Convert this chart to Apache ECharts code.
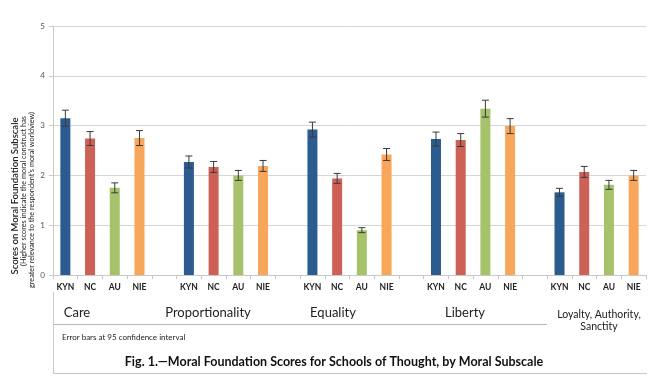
<!DOCTYPE html>
<html><head><meta charset="utf-8">
<script src="https://cdn.jsdelivr.net/npm/echarts@6/dist/echarts.min.js"></script>
<style>html,body{margin:0;padding:0;background:#fff}#c{width:655px;height:383px}</style>
</head><body><div id="c"></div>
<script>
const groups = ['Care', 'Proportionality', 'Equality', 'Liberty', 'Loyalty, Authority,\nSanctity'];
const schools = ['KYN', 'NC', 'AU', 'NIE'];
const kyn = [3.15, 2.27, 2.92, 2.73, 1.66];
const nc  = [2.74, 2.17, 1.94, 2.71, 2.07];
const au  = [1.75, 2.00, 0.90, 3.34, 1.81];
const nie = [2.75, 2.19, 2.42, 2.99, 2.00];
const kynErr = [0.16, 0.12, 0.15, 0.14, 0.08];
const ncErr  = [0.14, 0.11, 0.10, 0.13, 0.11];
const auErr  = [0.10, 0.10, 0.05, 0.17, 0.09];
const nieErr = [0.15, 0.11, 0.12, 0.15, 0.10];
const yTicks = [0, 1, 2, 3, 4, 5];
const colors = ['#2c5b8f', '#cd6157', '#a6c26a', '#f7a65a'];

const vals = [kyn, nc, au, nie];
const errs = [kynErr, ncErr, auErr, nieErr];
const cats = [], barData = [], errData = [];
groups.forEach((g, gi) => {
  schools.forEach((s, si) => {
    const idx = cats.length;
    cats.push(s);
    const v = vals[si][gi], e = errs[si][gi];
    barData.push({ value: v, itemStyle: { color: colors[si] } });
    errData.push([idx, v - e, v + e]);
  });
  if (gi < groups.length - 1) { cats.push(''); barData.push(null); }
});

const chart = echarts.init(document.getElementById('c'), null, { renderer: 'canvas' });
const FONT = 'Lato';
chart.setOption({
  animation: false,
  textStyle: { fontFamily: FONT },
  grid: { left: 53, right: 9, top: 26, bottom: 108, containLabel: false },
  xAxis: {
    type: 'category', data: cats,
    axisLine: { lineStyle: { color: '#c8c8c8', width: 1 } },
    axisTick: { show: true, alignWithLabel: false, length: 4, lineStyle: { color: '#c8c8c8' } },
    axisLabel: { color: '#222', fontSize: 8.5, fontWeight: 'bold', fontFamily: FONT, margin: 8, interval: 0 },
    splitLine: { show: false }
  },
  yAxis: {
    type: 'value', min: yTicks[0], max: yTicks[yTicks.length - 1], interval: 1,
    axisLine: { show: true, lineStyle: { color: '#c8c8c8' } },
    axisTick: { show: true, length: 4, lineStyle: { color: '#c8c8c8' } },
    axisLabel: { color: '#555', fontSize: 8, margin: 8, fontFamily: FONT },
    splitLine: { lineStyle: { color: '#d6d6d6', width: 1 } }
  },
  series: [
    { type: 'bar', data: barData, barWidth: 10, z: 2 },
    {
      type: 'custom', data: errData, z: 5,
      renderItem: function (params, api) {
        const x = api.value(0);
        const lo = api.coord([x, api.value(1)]);
        const hi = api.coord([x, api.value(2)]);
        const cw = 3.5;
        const st = { stroke: '#3a3a3a', lineWidth: 1 };
        return { type: 'group', children: [
          { type: 'line', shape: { x1: lo[0], y1: lo[1], x2: hi[0], y2: hi[1] }, style: st },
          { type: 'line', shape: { x1: lo[0] - cw, y1: lo[1], x2: lo[0] + cw, y2: lo[1] }, style: st },
          { type: 'line', shape: { x1: hi[0] - cw, y1: hi[1], x2: hi[0] + cw, y2: hi[1] }, style: st }
        ]};
      }
    }
  ],
  graphic: [
    { type: 'text', x: 15, y: 196, rotation: Math.PI / 2, style: { text: 'Scores on Moral Foundation Subscale', font: '600 9.5px ' + FONT, fill: '#222', textAlign: 'center', textVerticalAlign: 'middle' } },
    { type: 'text', x: 24, y: 191, rotation: Math.PI / 2, style: { text: '(Higher scores indicate the moral construct has', font: '7.3px ' + FONT, fill: '#222', textAlign: 'center', textVerticalAlign: 'middle' } },
    { type: 'text', x: 32, y: 200, rotation: Math.PI / 2, style: { text: 'greater relevance to the respondent\u2019s moral worldview)', font: '7.3px ' + FONT, fill: '#222', textAlign: 'center', textVerticalAlign: 'middle' } },
    { type: 'text', x: 77, y: 313, style: { text: groups[0], font: '13px ' + FONT, fill: '#222', textAlign: 'center', textVerticalAlign: 'middle' } },
    { type: 'text', x: 208, y: 313, style: { text: groups[1], font: '13px ' + FONT, fill: '#222', textAlign: 'center', textVerticalAlign: 'middle' } },
    { type: 'text', x: 333, y: 313, style: { text: groups[2], font: '13px ' + FONT, fill: '#222', textAlign: 'center', textVerticalAlign: 'middle' } },
    { type: 'text', x: 465, y: 313, style: { text: groups[3], font: '13px ' + FONT, fill: '#222', textAlign: 'center', textVerticalAlign: 'middle' } },
    { type: 'text', x: 599, y: 321, style: { text: groups[4], font: '10.5px ' + FONT, fill: '#222', textAlign: 'center', textVerticalAlign: 'middle', lineHeight: 12 } },
    { type: 'line', shape: { x1: 53, y1: 324.5, x2: 547, y2: 324.5 }, style: { stroke: '#b8b8b8', lineWidth: 1 } },
    { type: 'line', shape: { x1: 53.5, y1: 292, x2: 53.5, y2: 374 }, style: { stroke: '#c8c8c8', lineWidth: 1 } },
    { type: 'line', shape: { x1: 53, y1: 373.5, x2: 647, y2: 373.5 }, style: { stroke: '#c8c8c8', lineWidth: 1 } },
    { type: 'text', x: 62, y: 337, style: { text: 'Error bars at 95 confidence interval', font: '8px ' + FONT, fill: '#222', textAlign: 'left', textVerticalAlign: 'middle' } },
    { type: 'text', x: 334, y: 362, style: { text: 'Fig. 1.\u2014Moral Foundation Scores for Schools of Thought, by Moral Subscale', font: 'bold 12.5px ' + FONT, fill: '#111', textAlign: 'center', textVerticalAlign: 'middle' } }
  ]
});
</script></body></html>
